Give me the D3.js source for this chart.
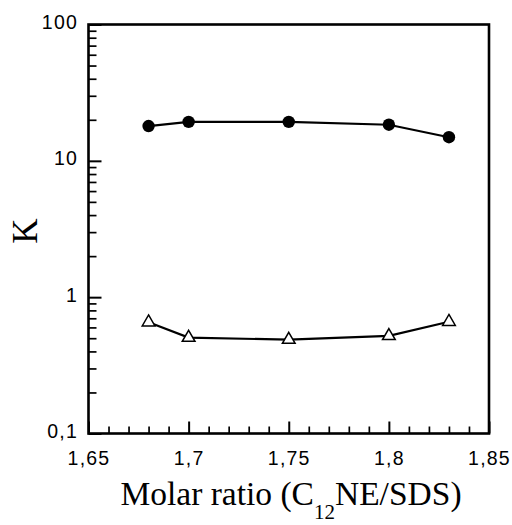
<!DOCTYPE html>
<html><head><meta charset="utf-8">
<script src="https://cdn.jsdelivr.net/npm/d3@7"></script>
<style>body{margin:0;background:#fff}</style>
</head><body>
<svg id="c" width="512" height="525"></svg>
<script>
const ratios = [1.68, 1.70, 1.75, 1.80, 1.83];
const kCircle = [18.0, 19.3, 19.3, 18.4, 14.9];
const kTriangle = [0.655, 0.505, 0.488, 0.52, 0.66];
const xTicks = [1.65, 1.70, 1.75, 1.80, 1.85];
const xTickLabels = ["1,65", "1,7", "1,75", "1,8", "1,85"];
const yTicks = [0.1, 1, 10, 100];
const yTickLabels = ["0,1", "1", "10", "100"];

const svg = d3.select("#c");
const L = 88.5, R = 489, T = 24.5, B = 433.5;
const x = d3.scaleLinear().domain([1.65, 1.85]).range([L, R]);
const y = d3.scaleLog().domain([0.1, 100]).range([B, T]);

const xMinor = d3.range(166, 185).map(d => d / 100).filter(d => !xTicks.some(t => Math.abs(t - d) < 1e-9));
const yMinor = [];
[0.1, 1, 10].forEach(dec => { for (let i = 2; i <= 9; i++) yMinor.push(dec * i); });

// frame
svg.append("rect").attr("x", L).attr("y", T).attr("width", R - L).attr("height", B - T)
  .attr("fill", "none").attr("stroke", "#000").attr("stroke-width", 2.6);

const xAxisMajor = d3.axisTop(x).tickValues(xTicks).tickSize(12).tickFormat("");
const xAxisMinor = d3.axisTop(x).tickValues(xMinor).tickSize(7).tickFormat("");
const yAxisMajor = d3.axisRight(y).tickValues(yTicks).tickSize(13).tickFormat("");
const yAxisMinor = d3.axisRight(y).tickValues(yMinor).tickSize(8).tickFormat("");

function styleAxis(sel, w) {
  sel.select(".domain").remove();
  sel.selectAll(".tick line").style("stroke", "#000").style("stroke-width", w);
}
svg.append("g").attr("class", "xmaj").attr("transform", `translate(0,${B})`).call(xAxisMajor).call(s => styleAxis(s, 2));
svg.append("g").attr("class", "xmin").attr("transform", `translate(0,${B})`).call(xAxisMinor).call(s => styleAxis(s, 1.7));
svg.append("g").attr("class", "ymaj").attr("transform", `translate(${L},0)`).call(yAxisMajor).call(s => styleAxis(s, 2));
svg.append("g").attr("class", "ymin").attr("transform", `translate(${L},0)`).call(yAxisMinor).call(s => styleAxis(s, 1.7));

const tf = "'Liberation Sans', Arial, sans-serif";
svg.selectAll(".xl").data(xTicks).join("text").attr("class", "xl")
  .attr("x", d => x(d) + 0.5).attr("y", 465).attr("text-anchor", "middle")
  .attr("font-family", tf).attr("font-size", 19.5).attr("letter-spacing", 1.2)
  .text((d, i) => xTickLabels[i]);
svg.selectAll(".yl").data(yTicks).join("text").attr("class", "yl")
  .attr("x", 78).attr("y", d => y(d) + 4.5).attr("text-anchor", "end")
  .attr("font-family", tf).attr("font-size", 19.5).attr("letter-spacing", 1.2)
  .text((d, i) => yTickLabels[i]);

const sf = "'Liberation Serif', 'Times New Roman', serif";
const xt = svg.append("text").attr("x", 291).attr("y", 505).attr("text-anchor", "middle")
  .attr("font-family", sf).attr("font-size", 33.5);
xt.append("tspan").text("Molar ratio (C");
xt.append("tspan").attr("font-size", 21).attr("dy", 14).text("12");
xt.append("tspan").attr("dy", -14).text("NE/SDS)");
svg.append("text").attr("transform", "translate(37,231) rotate(-90)")
  .attr("text-anchor", "middle").attr("font-family", sf).attr("font-size", 35).text("K");

const line = d3.line().x(d => x(d[0])).y(d => y(d[1]));
const c1 = ratios.map((r, i) => [r, kCircle[i]]);
const c2 = ratios.map((r, i) => [r, kTriangle[i]]);
svg.append("path").attr("d", line(c1)).attr("fill", "none").attr("stroke", "#000").attr("stroke-width", 2.2);
svg.append("path").attr("d", line(c2)).attr("fill", "none").attr("stroke", "#000").attr("stroke-width", 2.2);

svg.selectAll(".cir").data(c1).join("circle").attr("class", "cir")
  .attr("cx", d => x(d[0])).attr("cy", d => y(d[1])).attr("r", 6.2).attr("fill", "#000");
const tri = d3.symbol().type(d3.symbolTriangle).size(70);
svg.selectAll(".tri").data(c2).join("path").attr("class", "tri")
  .attr("transform", d => `translate(${x(d[0])},${y(d[1])})`)
  .attr("d", tri).attr("fill", "#fff").attr("stroke", "#000").attr("stroke-width", 1.5);
</script>
</body></html>
